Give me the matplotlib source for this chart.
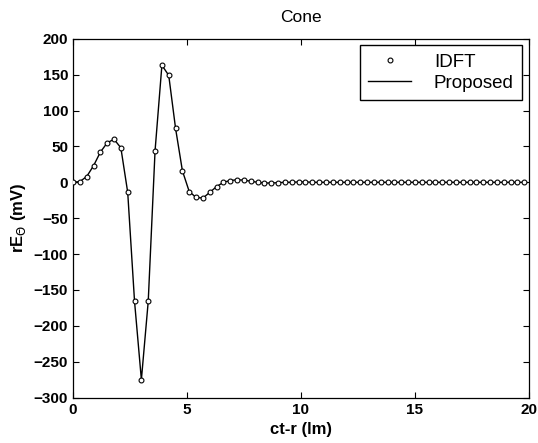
import numpy as np
import matplotlib.pyplot as plt

plt.rcParams['font.family'] = ['Liberation Sans', 'DejaVu Sans']

# sample grid of the IDFT result (ct-r in lm)
t_step = 0.3
t = np.round(np.arange(0, 20.0, t_step), 2)

# rE_theta (mV)
idft = [0, 1, 8, 23, 42, 55, 60, 48, -14, -166,
        -275, -166, 44, 163, 149, 75, 16, -13, -21, -22,
        -14, -6, 0, 2.5, 3.5, 3, 1.5, 0, -1, -1,
        -0.5, 0, 0, 0.5, 0.5, 0, 0, 0, 0, 0,
        0, 0, 0, 0, 0, 0, 0, 0, 0, 0,
        0, 0, 0, 0, 0, 0, 0, 0, 0, 0,
        0, 0, 0, 0, 0, 0, 0]
proposed = idft

fig = plt.figure(figsize=(5.38, 4.43), dpi=100)
ax = fig.add_axes([0.1357, 0.1023, 0.8473, 0.8103])

ax.plot(t, proposed, color='black', lw=1.0, label='Proposed', zorder=2)
ax.plot(t, idft, linestyle='none', marker='o', markersize=3.5,
        markerfacecolor='white', markeredgecolor='black',
        markeredgewidth=0.8, label='IDFT', zorder=3)

ax.set_xlim(0, 20)
ax.set_ylim(-300, 200)
ax.set_xticks([0, 5, 10, 15, 20])
ax.set_yticks(np.arange(-300, 201, 50))
ax.tick_params(direction='in', top=True, right=True, length=4, width=0.8,
               labelsize=11)
for lab in ax.get_xticklabels() + ax.get_yticklabels():
    lab.set_fontweight('bold')
for s in ax.spines.values():
    s.set_linewidth(0.9)

ax.set_title('Cone', fontsize=12.5, pad=12)
ax.set_xlabel('ct-r (lm)', fontsize=12, fontweight='bold')
ax.set_ylabel(r'rE$_\Theta$ (mV)', fontsize=12, fontweight='bold')

h, l = ax.get_legend_handles_labels()
ax.legend([h[1], h[0]], [l[1], l[0]], loc='upper right', fontsize=13.5,
          numpoints=1, frameon=True, fancybox=False, edgecolor='black',
          framealpha=1, handlelength=2.3, handletextpad=1.2,
          borderpad=0.45, labelspacing=0.2, borderaxespad=0.35)

fig.savefig('out.png', dpi=100)
